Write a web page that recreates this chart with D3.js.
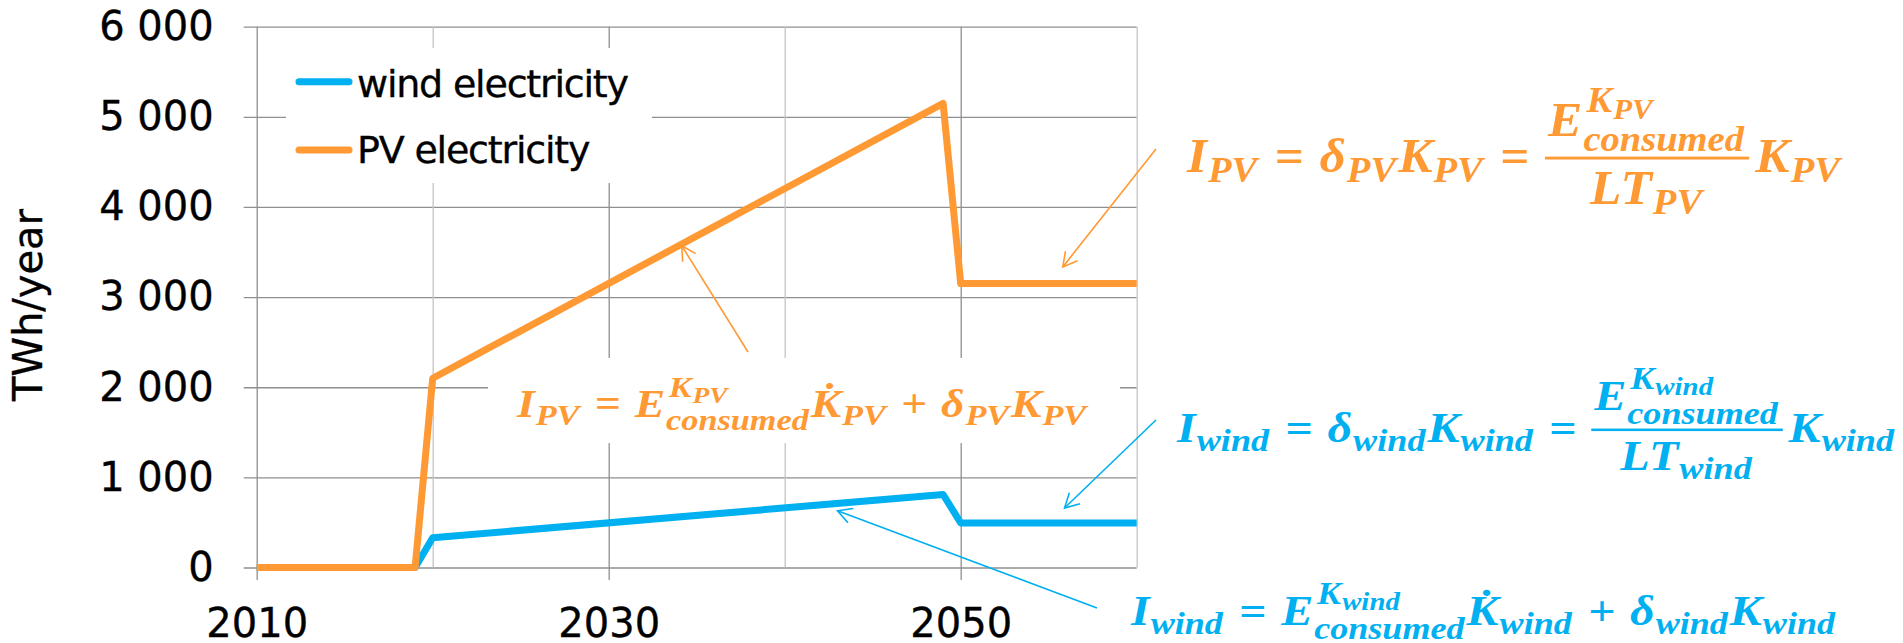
<!DOCTYPE html>
<html>
<head>
<meta charset="utf-8">
<script src="https://cdn.jsdelivr.net/npm/d3@7"></script>
<style>
  html, body { margin: 0; padding: 0; background: #fff; }
  svg { display: block; }
</style>
</head>
<body>
<script>
// Annual electricity output of wind and PV capacity, TWh/year
const years = [2010, 2019, 2020, 2049, 2050, 2060];
const windElectricity = [0, 0, 330, 810, 495, 495];
const pvElectricity = [0, 0, 2100, 5150, 3150, 3150];
const seriesNames = ["wind electricity", "PV electricity"];
const yTicks = [0, 1000, 2000, 3000, 4000, 5000, 6000];
const yTickLabels = ["0", "1 000", "2 000", "3 000", "4 000", "5 000", "6 000"];
const xTicks = [2010, 2020, 2030, 2040, 2050, 2060];
const xTickLabels = ["2010", "", "2030", "", "2050", ""];
const yTitle = "TWh/year";

const BLUE = "#00B0F0";
const ORANGE = "#FF9933";
const SANS = "'DejaVu Sans', sans-serif";
const MATH = "'Liberation Serif', 'DejaVu Serif', serif";
const LABEL_SIZE = 40;

const svg = d3.select("body").append("svg")
  .attr("width", 1903).attr("height", 643)
  .style("background", "#fff");

const x = d3.scaleLinear().domain([2010, 2060]).range([256.7, 1136.7]);
const y = d3.scaleLinear().domain([0, 6000]).range([567.5, 26.7]);
const plotW = x.range()[1] - x.range()[0];
const plotH = y.range()[0] - y.range()[1];

function labelStyle(sel) {
  sel.attr("font-family", SANS).attr("font-size", LABEL_SIZE)
    .attr("fill", "#000").attr("stroke", "#000").attr("stroke-width", 0.35);
}

// horizontal gridlines with left tick marks and value labels
const yAxis = svg.append("g")
  .attr("transform", `translate(${x.range()[1]},0)`)
  .call(d3.axisLeft(y).tickValues(yTicks)
    .tickFormat((d, i) => yTickLabels[i])
    .tickSize(plotW + 13).tickPadding(30));
yAxis.select(".domain").remove();
yAxis.selectAll(".tick line").attr("stroke", "#8f8f8f").attr("stroke-width", 1.3);
yAxis.selectAll(".tick text").call(labelStyle);

// vertical gridlines: labelled years darker and ticked below the axis
const xAxis = svg.append("g")
  .attr("transform", `translate(0,${y.range()[1]})`)
  .call(d3.axisBottom(x).tickValues(xTicks)
    .tickFormat((d, i) => xTickLabels[i])
    .tickSize(plotH + 12.5).tickPadding(28.6));
xAxis.select(".domain").remove();
xAxis.selectAll(".tick line")
  .attr("stroke", (d, i) => xTickLabels[i] ? "#8f8f8f" : "#c4c4c4")
  .attr("stroke-width", 1.3)
  .attr("y2", (d, i) => xTickLabels[i] ? plotH + 12.5 : plotH);
xAxis.selectAll(".tick text").call(labelStyle);

// axis title
svg.append("text")
  .attr("transform", `translate(42,305) rotate(-90)`)
  .attr("text-anchor", "middle")
  .call(labelStyle)
  .text(yTitle);

// white panels behind the legend and the in-plot equation
svg.append("rect").attr("x", 286).attr("y", 48).attr("width", 366).attr("height", 135).attr("fill", "#fff");
svg.append("rect").attr("x", 488).attr("y", 358).attr("width", 632).attr("height", 85).attr("fill", "#fff");

// series
const line = d3.line().x((d, i) => x(years[i])).y(d => y(d));
svg.append("path").datum(windElectricity).attr("d", line)
  .attr("fill", "none").attr("stroke", BLUE).attr("stroke-width", 7).attr("stroke-linejoin", "round");
svg.append("path").datum(pvElectricity).attr("d", line)
  .attr("fill", "none").attr("stroke", ORANGE).attr("stroke-width", 7).attr("stroke-linejoin", "round");

// legend
const legend = svg.append("g");
[[BLUE, 81.7, 96.7], [ORANGE, 150, 163.3]].forEach(([c, ly, tb], i) => {
  legend.append("line").attr("x1", 299).attr("x2", 349).attr("y1", ly).attr("y2", ly)
    .attr("stroke", c).attr("stroke-width", 7).attr("stroke-linecap", "round");
  legend.append("text").attr("x", 357).attr("y", tb)
    .call(labelStyle).attr("font-size", 38)
    .attr("letter-spacing", -1.2)
    .text(seriesNames[i]);
});

// ---------- equation typesetting ----------
function txt(g, s, tx, ty, fs, upright) {
  const t = g.append("text").attr("x", tx).attr("y", ty).attr("font-size", fs)
    .attr("font-style", upright ? "normal" : "italic").text(s);
  return t.node().getComputedTextLength();
}

function row(g, items, size) {
  let cx = 0;
  items.forEach(it => {
    const sg = g.append("g").attr("transform", `translate(${cx},0)`);
    cx += piece(sg, it, size);
  });
  return cx;
}

function piece(g, it, size) {
  if (it.op) {
    const pad = size * 0.3;
    const w = txt(g, it.op, pad, 0, size, true);
    return w + 2 * pad;
  }
  if (it.frac) {
    const gn = g.append("g"), gd = g.append("g");
    const wn = row(gn, it.frac[0], size);
    const wd = row(gd, it.frac[1], size);
    const W = Math.max(wn, wd) + size * 0.12;
    gn.attr("transform", `translate(${(W - wn) / 2},${-size * 0.76})`);
    gd.attr("transform", `translate(${(W - wd) / 2},${size * 0.67})`);
    g.append("rect").attr("x", 0).attr("y", -size * 0.32).attr("width", W).attr("height", size * 0.06);
    return W + size * 0.12;
  }
  const bw = txt(g, it.v, 0, 0, size, false);
  if (it.dot) {
    g.append("text").attr("x", bw * 0.62).attr("y", -size * 0.14)
      .attr("text-anchor", "middle").attr("font-size", size).attr("font-style", "normal").text("\u02D9");
  }
  const sx = bw + size * 0.02;
  const both = it.sub && it.sup;
  let sw = 0;
  if (it.sub) sw = txt(g, it.sub, sx, size * (both ? 0.33 : 0.21), size * 0.75, false);
  if (it.sup) {
    const kx = sx + size * 0.06;
    const sy = -size * 0.5;
    let w1 = txt(g, it.sup, kx, sy, size * 0.75, false);
    if (it.supSub) w1 += txt(g, it.supSub, kx + w1 + size * 0.02, sy + size * 0.15, size * 0.6, false) + size * 0.02;
    sw = Math.max(sw, w1 + size * 0.06);
  }
  return sx + sw + size * 0.04;
}

function equation(items, x0, x1, base, size, color) {
  const g = svg.append("g").attr("fill", color).attr("font-family", MATH).attr("font-weight", "bold");
  const inner = g.append("g");
  const w = row(inner, items, size);
  g.attr("transform", `translate(${x0},${base}) scale(${(x1 - x0) / w},1)`);
}

function steadyState(s) {
  return [
    {v: "I", sub: s}, {op: "="}, {v: "\u03B4", sub: s}, {v: "K", sub: s}, {op: "="},
    {frac: [[{v: "E", sup: "K", supSub: s, sub: "consumed"}], [{v: "LT", sub: s}]]},
    {v: "K", sub: s}
  ];
}
function buildUp(s) {
  return [
    {v: "I", sub: s}, {op: "="}, {v: "E", sup: "K", supSub: s, sub: "consumed"},
    {v: "K", dot: true, sub: s}, {op: "+"}, {v: "\u03B4", sub: s}, {v: "K", sub: s}
  ];
}

equation(steadyState("PV"), 1187, 1842, 172, 48, ORANGE);
equation(steadyState("wind"), 1177, 1896, 442, 42, BLUE);
equation(buildUp("PV"), 517, 1088, 417, 40, ORANGE);
equation(buildUp("wind"), 1131, 1837, 625, 42, BLUE);

// leader arrows from each equation to the curve segment it describes
function arrow(x1, y1, tipYear, tipValue, color) {
  const x2 = x(tipYear), y2 = y(tipValue);
  const a = Math.atan2(y2 - y1, x2 - x1), L = 16, s = 0.5;
  svg.append("line").attr("x1", x1).attr("y1", y1).attr("x2", x2).attr("y2", y2)
    .attr("stroke", color).attr("stroke-width", 1.6);
  const pts = [
    [x2 - L * Math.cos(a - s), y2 - L * Math.sin(a - s)],
    [x2, y2],
    [x2 - L * Math.cos(a + s), y2 - L * Math.sin(a + s)]
  ];
  svg.append("polyline").attr("points", pts.map(p => p.join(",")).join(" "))
    .attr("fill", "none").attr("stroke", color).attr("stroke-width", 1.6);
}
arrow(748, 352, 2034.15, 3570, ORANGE);
arrow(1156, 149, 2055.8, 3335, ORANGE);
arrow(1156, 420, 2055.9, 660, BLUE);
arrow(1097, 608, 2043, 630, BLUE);
</script>
</body>
</html>
